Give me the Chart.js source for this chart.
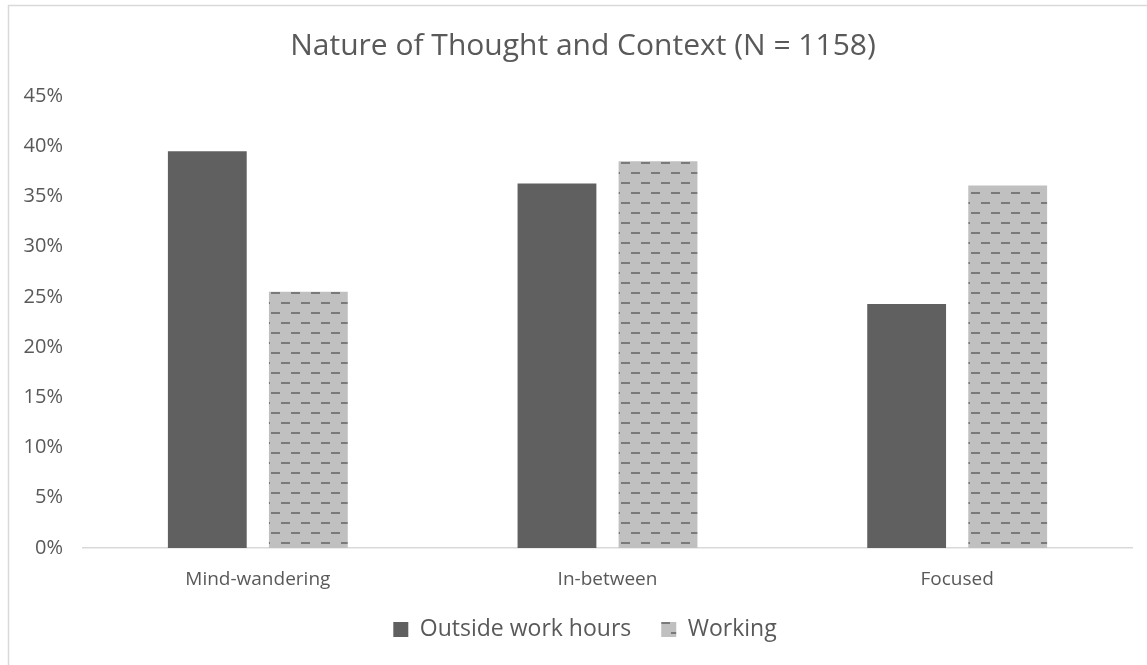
<!DOCTYPE html>
<html>
<head>
<meta charset="utf-8">
<script src="https://cdn.jsdelivr.net/npm/chart.js@4/dist/chart.umd.min.js"></script>
<style>
html,body{margin:0;padding:0;background:#fff;}
#wrap{width:1147px;height:665px;position:relative;}
</style>
</head>
<body>
<div id="wrap"><canvas id="c" width="1147" height="665"></canvas></div>
<script>
const categories = ["Mind-wandering", "In-between", "Focused"];
const outsideWorkHours = [39.5, 36.3, 24.3];
const working = [25.5, 38.5, 36.1];
const seriesNames = ["Outside work hours", "Working"];
const titleText = "Nature of Thought and Context (N = 1158)";

const FONT = "'Open Sans', sans-serif";
const TEXT = "#595959";

function makePattern() {
  const t = document.createElement("canvas");
  t.width = 20; t.height = 20;
  const g = t.getContext("2d");
  g.fillStyle = "#c0c0c0";
  g.fillRect(0, 0, 20, 20);
  g.fillStyle = "#7a7a7a";
  g.fillRect(1, 2, 9, 2);
  g.fillRect(11, 12, 9, 2);
  return document.getElementById("c").getContext("2d").createPattern(t, "repeat");
}
const pattern = makePattern();

const frame = {
  id: "frame",
  beforeDraw(chart) {
    const ctx = chart.ctx;
    ctx.save();
    ctx.fillStyle = "#fff";
    ctx.fillRect(0, 0, chart.width, chart.height);
    ctx.strokeStyle = "#d9d9d9";
    ctx.lineWidth = 1.5;
    ctx.beginPath();
    ctx.moveTo(8.5, chart.height);
    ctx.lineTo(8.5, 5.5);
    ctx.lineTo(chart.width, 5.5);
    ctx.stroke();
    ctx.restore();
  }
};

// nudge title and legend blocks to match the reference centring
const nudge = {
  id: "nudge",
  afterLayout(chart) {
    const t = chart.titleBlock;
    if (t) { t.left += 17; t.right += 17; }
    const l = chart.legend;
    if (l) { l.left += 19; l.right += 19; l.top -= 4; l.bottom -= 4; }
  }
};

new Chart(document.getElementById("c"), {
  type: "bar",
  data: {
    labels: categories,
    datasets: [
      { label: seriesNames[0], data: outsideWorkHours, backgroundColor: "#606060", borderWidth: 0 },
      { label: seriesNames[1], data: working, backgroundColor: pattern, borderWidth: 0 }
    ]
  },
  plugins: [frame, nudge],
  options: {
    responsive: false,
    animation: false,
    devicePixelRatio: 1,
    layout: { padding: { left: 0, right: 15, top: 26, bottom: 10 } },
    datasets: { bar: { categoryPercentage: 0.578, barPercentage: 0.78 } },
    plugins: {
      tooltip: { enabled: false },
      title: {
        display: true,
        text: titleText,
        color: TEXT,
        font: { family: FONT, size: 30, weight: "normal" },
        padding: { top: 2, bottom: 32 }
      },
      legend: {
        position: "bottom",
        labels: {
          color: TEXT,
          font: { family: FONT, size: 23 },
          boxWidth: 15,
          boxHeight: 15,
          padding: 30,
          generateLabels(chart) {
            return chart.data.datasets.map((d, i) => ({
              text: d.label,
              fillStyle: d.backgroundColor,
              strokeStyle: "rgba(0,0,0,0)",
              lineWidth: 0,
              fontColor: TEXT,
              datasetIndex: i,
              hidden: false
            }));
          }
        }
      }
    },
    scales: {
      x: {
        grid: { display: false, drawTicks: false },
        border: { display: true, color: "#d9d9d9", width: 1.5 },
        ticks: { color: TEXT, font: { family: FONT, size: 19 }, padding: 20 },
        afterFit(s) { s.height = 44; }
      },
      y: {
        min: 0,
        max: 45,
        grid: { display: false, drawTicks: false },
        border: { display: false },
        ticks: {
          stepSize: 5,
          color: TEXT,
          font: { family: FONT, size: 20 },
          padding: 20,
          callback: v => v + "%"
        },
        afterFit(s) { s.width = 83; }
      }
    }
  }
});
</script>
</body>
</html>
